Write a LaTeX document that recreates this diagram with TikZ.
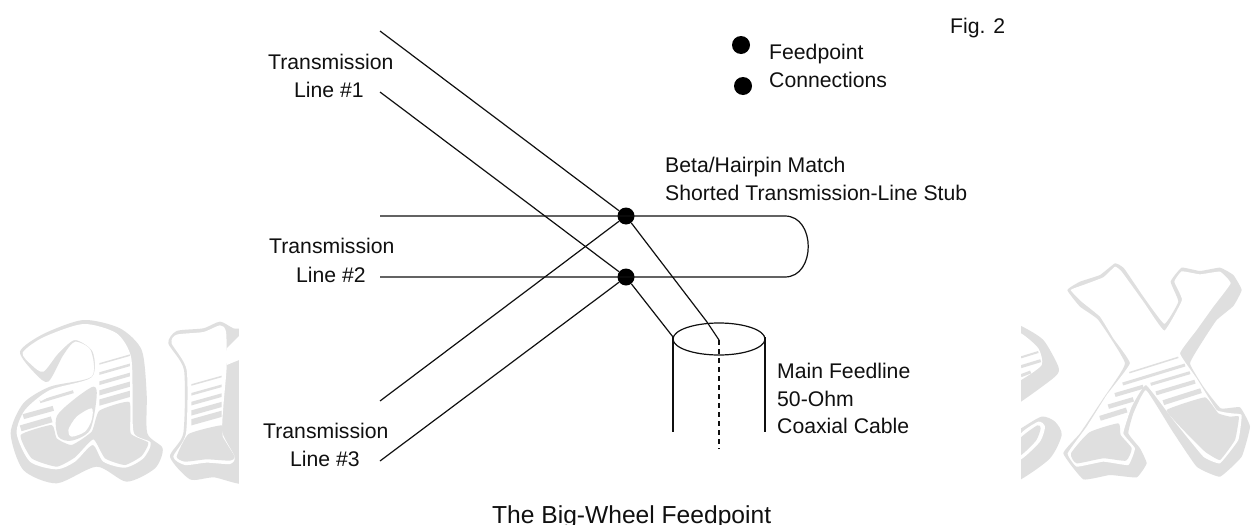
\documentclass[tikz,border=0pt]{standalone}
\usepackage{fontspec}
\usetikzlibrary{shapes.geometric}
\setmainfont{Liberation Sans}
\definecolor{wmgray}{HTML}{DFDFDF}
\definecolor{inkc}{HTML}{101010}
\tikzset{
  wire/.style={draw=inkc,line width=1.2pt},
  feeddot/.style={circle,fill=black,draw=none,minimum size=17pt,inner sep=0pt},
  lbl/.style={anchor=base west,inner sep=0pt,text=inkc,font=\fontsize{21.2}{23}\selectfont},
  wm/.style={fill=wmgray,draw=none},
  wmw/.style={fill=white,draw=none},
  stripe/.style={draw=wmgray,line width=#1}
}
\begin{document}
\begin{tikzpicture}[x=1pt,y=-1pt]
\path[use as bounding box,clip] (0,0) rectangle (1251,525);
\fill[white] (0,0) rectangle (1251,525);
% ---- background mark, left part
\begin{scope}[shift={(0pt,-200pt)},scale=0.33333]
  % a
  \fill[wm] plot[smooth cycle,tension=0.45] coordinates {(60,455)(130,402)(250,360)(360,385)(425,450)(440,580)(442,700)(488,745)(465,805)(380,845)(290,800)(170,850)(70,810)(32,700)(70,610)(150,560)(275,530)(272,450)(225,425)(190,465)(145,545)(105,520)};
  \fill[wmw] plot[smooth cycle,tension=0.45] coordinates {(68,458)(130,412)(250,372)(350,400)(393,470)(398,600)(402,700)(452,728)(430,775)(375,803)(310,785)(278,735)(225,785)(170,808)(90,785)(50,700)(75,630)(150,570)(275,532)(278,455)(225,420)(175,460)(130,515)(95,495)};
  \begin{scope}
    \clip (298,440) rectangle (390,660);
    \foreach \k/\w in {0/1.5pt,1/2.5pt,2/3.5pt,3/5pt,4/6pt} {\draw[stripe=\w] (290,{494+\k*29}) -- (395,{464+\k*29});}
  \end{scope}
  \fill[wm] plot[smooth cycle,tension=0.3] coordinates {(298,632)(388,606)(392,700)(445,728)(425,768)(375,795)(315,775)(280,718)(225,772)(170,800)(95,775)(62,705)(155,675)(170,715)(215,735)(275,695)};
  \fill[wm] plot[smooth cycle,tension=0.5] coordinates {(290,590)(280,560)(220,600)(170,650)(175,710)(215,722)(270,690)};
  \fill[wmw] plot[smooth cycle,tension=0.5] coordinates {(275,625)(230,650)(205,690)(215,710)(255,695)(275,660)};
  \draw[stripe=5pt] (70,650) -- (160,625);
  \draw[stripe=3pt] (120,605) -- (220,575);
  \draw[stripe=6pt] (62,685) -- (155,658);
  \draw[white,line width=3pt] (120,600) .. controls (170,570) and (230,555) .. (295,545);
  % i
  \begin{scope}
    \clip (0,300) rectangle (717,900);
    \fill[wm] plot[smooth cycle,tension=0.4] coordinates {(505,430)(530,393)(610,385)(660,365)(700,385)(780,420)(780,835)(640,832)(570,838)(510,770)(550,700)(552,510)};
    \fill[wmw] plot[smooth cycle,tension=0.4] coordinates {(515,430)(530,404)(610,396)(660,376)(678,395)(680,500)(670,620)(668,700)(704,770)(690,792)(620,788)(555,795)(520,770)(558,700)(560,510)};
    \fill[wmw] (680,445) -- (717,408) -- (717,480) -- (680,495) -- cycle;
    \fill[wm] plot[smooth cycle,tension=0.3] coordinates {(566,702)(665,676)(668,710)(704,770)(690,782)(620,778)(555,785)(530,770)};
    \clip (574,500) rectangle (665,690);
    \foreach \k/\w in {0/1.5pt,1/2.5pt,2/3.5pt,3/5pt,4/6pt} {\draw[stripe=\w] (570,{556+\k*28}) -- (670,{528+\k*28});}
  \end{scope}
\end{scope}
% ---- background mark, right part
\begin{scope}[shift={(1000pt,-200pt)},scale=0.33333]
  \begin{scope}
    \clip (63,300) rectangle (300,900);
    % e
    \fill[wm] plot[smooth cycle,tension=0.4] coordinates {(0,360)(63,378)(130,420)(175,500)(165,530)(63,605)(0,640)};
    \fill[wmw] plot[smooth cycle,tension=0.4] coordinates {(0,380)(63,400)(115,445)(125,495)(63,540)(0,570)};
    \draw[stripe=2pt] (63,472) -- (115,456);
    \draw[stripe=3pt] (63,500) -- (122,482);
    \draw[stripe=3pt] (63,527) -- (92,516);
    \fill[wm] plot[smooth cycle,tension=0.45] coordinates {(0,720)(63,685)(125,650)(165,665)(185,705)(150,775)(63,838)(0,860)};
    \fill[wmw] plot[smooth cycle,tension=0.4] coordinates {(63,700)(115,665)(135,680)(120,725)(63,778)(40,760)};
    \fill[wm] plot[smooth cycle,tension=0.4] coordinates {(63,712)(112,676)(122,685)(108,722)(63,765)(55,740)};
  \end{scope}
  % x
  \fill[wm] plot[smooth cycle,tension=0.22] coordinates {(202,270)(240,245)(300,225)(345,190)(372,205)(430,290)(493,372)(535,305)(512,245)(545,203)(600,213)(660,203)(700,225)(725,270)(700,318)(650,360)(610,420)(570,490)(610,560)(662,625)(720,622)(750,680)(725,770)(660,830)(590,800)(515,690)(438,570)(400,640)(385,700)(420,745)(440,790)(410,832)(330,825)(250,838)(190,760)(240,700)(310,595)(375,490)(295,360)(240,320)};
  \fill[wmw] plot[smooth cycle,tension=0.2] coordinates {(212,270)(250,255)(310,232)(345,200)(365,215)(430,305)(493,392)(546,300)(523,245)(545,214)(600,223)(660,215)(692,250)(640,320)(590,390)(540,460)(590,535)(650,630)(695,640)(725,645)(715,720)(660,790)(610,770)(520,660)(438,555)(395,620)(370,700)(405,745)(385,795)(310,785)(230,800)(203,760)(260,680)(320,585)(390,490)(340,415)(300,350)(245,305)};
  \fill[wm] plot[smooth cycle,tension=0.3] coordinates {(268,697)(355,670)(362,705)(395,745)(378,782)(310,775)(230,790)(213,760)};
  \fill[wm] plot[smooth cycle,tension=0.2] coordinates {(500,630)(615,592)(655,640)(690,650)(717,650)(705,720)(660,780)(615,755)(550,690)};
  \draw[stripe=1.5pt] (388,518) -- (535,472);
  \draw[stripe=3pt] (368,552) -- (555,495);
  \draw[stripe=4pt] (345,585) -- (430,560);
  \draw[stripe=4.5pt] (325,620) -- (400,598);
  \draw[stripe=5pt] (300,655) -- (380,630);
  \draw[stripe=3pt] (452,553) -- (570,518);
  \draw[stripe=4pt] (468,580) -- (585,545);
  \draw[stripe=5pt] (490,608) -- (603,572);
\end{scope}
% ---- the feedpoint diagram
\coordinate (t1a) at (380,31);
\coordinate (t1b) at (380,92);
\coordinate (t2a) at (380,216);
\coordinate (t2b) at (380,277);
\coordinate (t3a) at (380,401);
\coordinate (t3b) at (380,461);
\coordinate (h1) at (785,216);
\coordinate (h2) at (785,277);
\coordinate (ring) at (707,322);
\coordinate (ctr) at (719,340);
\coordinate (lft) at (673,337);
\coordinate (rgt) at (765,337);
\coordinate (lftb) at (673,432);
\coordinate (rgtb) at (765,432);
\coordinate (ctrb) at (719,449);
\node[feeddot] (d1) at (626,216) {};
\node[feeddot] (d2) at (626,277) {};
\node[feeddot,minimum size=18pt] (k1) at (741,45) {};
\node[feeddot,minimum size=18pt] (k2) at (743,86) {};
\draw[wire] (t1a) -- (d1);
\draw[wire] (t1b) -- (d2);
\draw[wire] (t3a) -- (d1);
\draw[wire] (t3b) -- (d2);
\draw[wire] (t2a) -- (h1) .. controls (816,216) and (816,277) .. (h2) -- (t2b);
\draw[wire] (d1) -- (ring) -- (ctr);
\draw[wire] (d2) -- (lft);
\node[draw=inkc,line width=1.2pt,ellipse,minimum width=92pt,minimum height=32pt,inner sep=0pt] (cable) at (719,339) {};
\draw[wire] (lft) -- (lftb);
\draw[wire] (rgt) -- (rgtb);
\draw[wire,dash pattern=on 5pt off 4pt] (ctr) -- (ctrb);
\node[lbl] (n1) at (950,33) {Fig. 2};
\node[lbl] (n2) at (769,59) {Feedpoint};
\node[lbl] (n3) at (769,87) {Connections};
\node[lbl] (n4) at (665,172) {Beta/Hairpin Match};
\node[lbl] (n5) at (665,200) {Shorted Transmission-Line Stub};
\node[lbl] (n6) at (268,69) {Transmission};
\node[lbl] (n7) at (294,97) {Line \#1};
\node[lbl] (n8) at (269,253) {Transmission};
\node[lbl] (n9) at (296,282) {Line \#2};
\node[lbl] (n10) at (263,438) {Transmission};
\node[lbl] (n11) at (290,466) {Line \#3};
\node[lbl] (n12) at (777,378) {Main Feedline};
\node[lbl] (n13) at (777,406) {50-Ohm};
\node[lbl] (n14) at (777,433) {Coaxial Cable};
\node[lbl,font=\fontsize{24.6}{26}\selectfont] (n15) at (492,523) {The Big-Wheel Feedpoint};
\end{tikzpicture}
\end{document}
